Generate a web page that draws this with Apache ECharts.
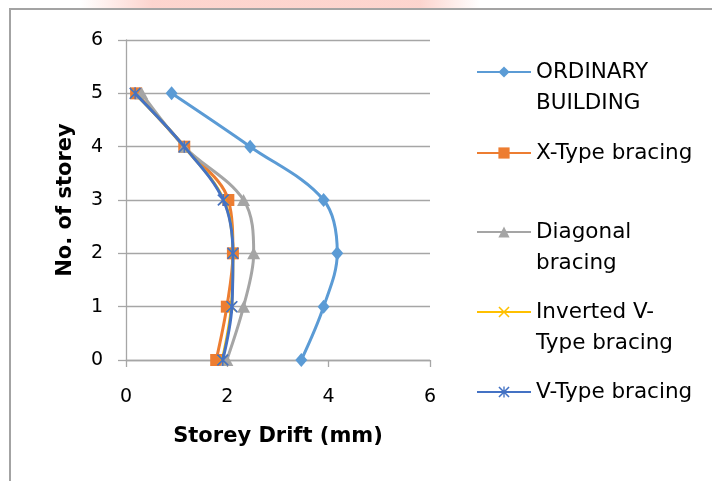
<!DOCTYPE html>
<html>
<head>
<meta charset="utf-8">
<script src="https://cdn.jsdelivr.net/npm/echarts@6/dist/echarts.min.js"></script>
<style>
  html, body { margin: 0; padding: 0; background: #fff; }
  #chart { width: 712px; height: 481px; }
</style>
</head>
<body>
<div id="chart"></div>
<script>
// Storey numbers (y) and storey drift in mm (x) for each building type
const storeys = [0, 1, 2, 3, 4, 5];
const ordinaryBuilding = [3.46, 3.90, 4.17, 3.90, 2.45, 0.90];
const xTypeBracing = [1.78, 1.99, 2.11, 2.02, 1.15, 0.20];
const diagonalBracing = [1.99, 2.32, 2.52, 2.32, 1.15, 0.31];
const invertedVTypeBracing = [1.90, 2.08, 2.11, 1.93, 1.15, 0.18];
const vTypeBracing = [1.91, 2.09, 2.11, 1.92, 1.15, 0.18];

const xTicks = [0, 2, 4, 6];
const yTicks = [0, 1, 2, 3, 4, 5, 6];

const seriesNames = ['ORDINARY BUILDING', 'X-Type bracing', 'Diagonal bracing', 'Inverted V-Type bracing', 'V-Type bracing'];
// wrapped legend text; a blank first line keeps the marker level with the first text line
const legendText = {
  'ORDINARY BUILDING': '\nORDINARY\nBUILDING',
  'X-Type bracing': 'X-Type bracing',
  'Diagonal bracing': '\nDiagonal\nbracing',
  'Inverted V-Type bracing': '\nInverted V-\nType bracing',
  'V-Type bracing': 'V-Type bracing'
};
const legendTops = [25.5, 137.5, 185.5, 265.5, 376.5];

const FONT = '"DejaVu Sans", sans-serif';
const crossPath = 'path://M0,1L1,0L5,4L9,0L10,1L6,5L10,9L9,10L5,6L1,10L0,9L4,5Z';
const starPath = 'path://M0,1L1,0L5,4L9,0L10,1L6,5L10,9L9,10L5,6L1,10L0,9L4,5Z M4.4,0L5.6,0L5.6,10L4.4,10Z';

function pairs(xs) {
  return xs.map((x, i) => [x, storeys[i]]);
}

const styles = [
  { color: '#5B9BD5', symbol: 'diamond', size: [12, 14], data: ordinaryBuilding },
  { color: '#ED7D31', symbol: 'rect', size: 12, data: xTypeBracing },
  { color: '#A5A5A5', symbol: 'triangle', size: [13, 12], data: diagonalBracing },
  { color: '#FFC000', symbol: crossPath, size: 10, data: invertedVTypeBracing },
  { color: '#4472C4', symbol: starPath, size: 12, data: vTypeBracing }
];

const chart = echarts.init(document.getElementById('chart'), null, { renderer: 'canvas' });

chart.setOption({
  animation: false,
  backgroundColor: '#ffffff',
  textStyle: { fontFamily: FONT },
  graphic: [
    {
      type: 'rect', silent: true, z: -1,
      shape: { x: 80, y: 0, width: 400, height: 9 },
      style: {
        fill: new echarts.graphic.LinearGradient(0, 0, 1, 0, [
          { offset: 0, color: 'rgba(252,205,198,0)' },
          { offset: 0.18, color: 'rgba(252,205,198,0.85)' },
          { offset: 0.85, color: 'rgba(252,205,198,0.85)' },
          { offset: 1, color: 'rgba(252,205,198,0)' }
        ])
      }
    },
    {
      type: 'rect', silent: true,
      shape: { x: 10, y: 9, width: 720, height: 490 },
      style: { fill: 'none', stroke: '#a3a3a3', lineWidth: 2 }
    }
  ],
  grid: { left: 126, right: 282, top: 40, bottom: 121, containLabel: false },
  xAxis: {
    type: 'value', min: 0, max: 6, interval: 2,
    name: 'Storey Drift (mm)', nameLocation: 'middle', nameGap: 66,
    nameTextStyle: { fontFamily: FONT, fontSize: 21, fontWeight: 'bold', color: '#000' },
    axisLine: { show: true, onZero: false, lineStyle: { color: '#a6a6a6', width: 1.3 } },
    axisTick: { show: true, inside: false, length: 7, lineStyle: { color: '#a6a6a6', width: 1.3 } },
    axisLabel: {
      margin: 28, fontFamily: FONT, fontSize: 19, color: '#000',
      customValues: xTicks
    },
    splitLine: { show: false }
  },
  yAxis: {
    type: 'value', min: 0, max: 6, interval: 1,
    name: 'No. of storey', nameLocation: 'middle', nameGap: 50, nameRotate: 90,
    nameTextStyle: { fontFamily: FONT, fontSize: 21, fontWeight: 'bold', color: '#000' },
    axisLine: { show: true, lineStyle: { color: '#a6a6a6', width: 1.3 } },
    axisTick: { show: true, inside: false, length: 8, lineStyle: { color: '#a6a6a6', width: 1.3 } },
    axisLabel: {
      margin: 23, fontFamily: FONT, fontSize: 19, color: '#000',
      customValues: yTicks
    },
    splitLine: { show: true, lineStyle: { color: '#a6a6a6', width: 1.3 } }
  },
  legend: seriesNames.map((name, i) => ({
    data: [name],
    left: 476,
    top: legendTops[i],
    padding: 0,
    orient: 'vertical',
    itemWidth: 54,
    itemHeight: 14,
    selectedMode: false,
    formatter: (n) => legendText[n],
    textStyle: { fontFamily: FONT, fontSize: 21.5, lineHeight: 31, color: '#000' }
  })),
  series: styles.map((s, i) => ({
    name: seriesNames[i],
    type: 'line',
    smooth: 0.35,
    data: pairs(s.data),
    symbol: s.symbol,
    symbolSize: s.size,
    showAllSymbol: true,
    color: s.color,
    itemStyle: { color: s.color },
    lineStyle: { color: s.color, width: 3 },
    z: 2 + i
  }))
});
</script>
</body>
</html>
